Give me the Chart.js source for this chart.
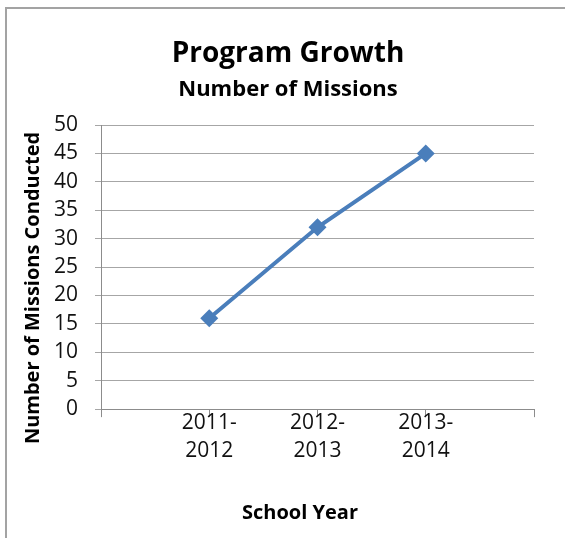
<!DOCTYPE html>
<html lang="en">
<head>
  <meta charset="UTF-8">
  <title>Program Growth</title>
  <script src="https://cdn.jsdelivr.net/npm/chart.js"></script>
  <style>
    body {
      margin: 0;
      background: #fff;
      overflow: hidden;
    }
    #frame {
      position: absolute;
      left: 5px;
      top: 7px;
      width: 620px;
      height: 600px;
      border: 2px solid #a3a3a3;
    }
    #wrap {
      position: absolute;
      left: 0;
      top: 0;
      width: 565px;
      height: 538px;
    }
  </style>
</head>
<body>
  <div id="frame"></div>
  <div id="wrap"><canvas id="growthChart" width="565" height="538"></canvas></div>

  <script>
    const schoolYears = ['2011-2012', '2012-2013', '2013-2014'];
    const missions = [16, 32, 45];
    const yMax = 50;
    const yStep = 5;

    // Excel puts the points on the tick marks, with an empty slot at each end
    const labels = ['', ...schoolYears.map(y => [y.slice(0, 5), y.slice(5)]), ''];
    const values = [null, ...missions, null];

    const axisTitles = {
      id: 'axisTitles',
      afterDraw(chart) {
        const ctx = chart.ctx;
        ctx.save();
        ctx.fillStyle = '#000';
        ctx.font = 'bold 20px "Open Sans"';
        ctx.textAlign = 'center';
        ctx.textBaseline = 'middle';
        ctx.fillText('School Year', 300, 513);
        ctx.translate(33, 288);
        ctx.rotate(-Math.PI / 2);
        ctx.fillText('Number of Missions Conducted', 0, 0);
        ctx.restore();
      }
    };

    Chart.defaults.font.family = '"Open Sans", sans-serif';
    Chart.defaults.color = '#111';

    new Chart(document.getElementById('growthChart'), {
      type: 'line',
      data: {
        labels: labels,
        datasets: [{
          label: 'Number of Missions',
          data: values,
          borderColor: '#4a7ebb',
          backgroundColor: '#4a7ebb',
          borderWidth: 4,
          pointStyle: 'rectRot',
          pointRadius: 9,
          pointBorderWidth: 0,
          tension: 0
        }]
      },
      options: {
        responsive: false,
        animation: false,
        layout: { padding: { left: 42, right: 31, top: 0, bottom: 81 } },
        plugins: {
          legend: { display: false },
          tooltip: { enabled: false },
          title: {
            display: true,
            text: 'Program Growth',
            color: '#000',
            font: { size: 28, weight: 'bold' },
            padding: { top: 37, bottom: 6 }
          },
          subtitle: {
            display: true,
            text: 'Number of Missions',
            color: '#000',
            font: { size: 22, weight: 'bold' },
            padding: { top: 0, bottom: 22 }
          }
        },
        scales: {
          x: {
            offset: false,
            grid: { drawOnChartArea: false, color: '#8c8c8c', tickLength: 8 },
            border: { color: '#8c8c8c' },
            ticks: {
              autoSkip: false,
              maxRotation: 0,
              padding: -8,
              font: { size: 21, lineHeight: 1.33 }
            }
          },
          y: {
            min: 0,
            max: yMax,
            afterFit: s => { s.width = 59; },
            grid: { color: '#a6a6a6', tickLength: 6 },
            border: { color: '#8c8c8c' },
            ticks: {
              stepSize: yStep,
              padding: 17,
              font: { size: 21 }
            }
          }
        }
      },
      plugins: [axisTitles]
    });
  </script>
</body>
</html>
